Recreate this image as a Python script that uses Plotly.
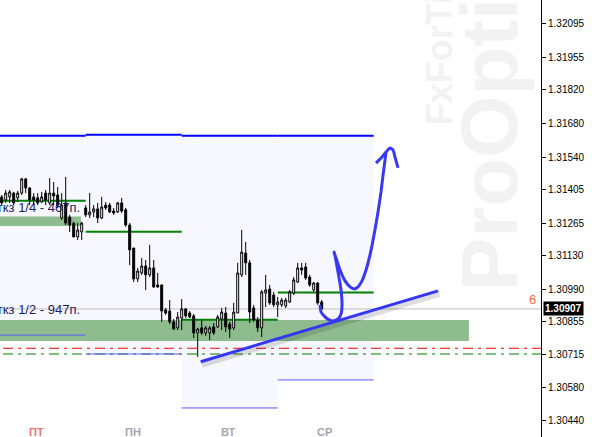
import plotly.graph_objects as go

# ---------------- data ----------------
bars = list(range(81))  # hourly bars, Friday .. Wednesday
opens = [1.31374, 1.31361, 1.31374, 1.31390, 1.31370, 1.31390, 1.31449, 1.31411, 1.31374, 1.31370,
         1.31353, 1.31390, 1.31349, 1.31390, 1.31382, 1.31286, 1.31349, 1.31290, 1.31265, 1.31207,
         1.31228, 1.31328, 1.31299, 1.31311, 1.31324, 1.31286, 1.31340, 1.31340, 1.31315, 1.31311,
         1.31349, 1.31320, 1.31257, 1.31161, 1.31032, 1.31057, 1.31086, 1.31049, 1.31078, 1.31007,
         1.31007, 1.30903, 1.30898, 1.30853, 1.30828, 1.30869, 1.30907, 1.30890, 1.30878, 1.30807,
         1.30828, 1.30807, 1.30807, 1.30832, 1.30832, 1.30865, 1.30890, 1.30844, 1.30828, 1.30890,
         1.31049, 1.31140, 1.31099, 1.30911, 1.30861, 1.30828, 1.30973, 1.30990, 1.30965, 1.30924,
         1.30924, 1.30919, 1.30936, 1.30973, 1.31019, 1.31078, 1.31082, 1.31040, 1.30986, 1.31015,
         1.30936]
highs = [1.31382, 1.31403, 1.31403, 1.31395, 1.31399, 1.31453, 1.31453, 1.31415, 1.31390, 1.31390,
         1.31395, 1.31403, 1.31453, 1.31436, 1.31415, 1.31390, 1.31457, 1.31299, 1.31270, 1.31265,
         1.31270, 1.31340, 1.31390, 1.31340, 1.31349, 1.31374, 1.31353, 1.31349, 1.31328, 1.31353,
         1.31370, 1.31328, 1.31265, 1.31161, 1.31078, 1.31119, 1.31111, 1.31174, 1.31111, 1.31057,
         1.31007, 1.30911, 1.30944, 1.30865, 1.30894, 1.30948, 1.30911, 1.30898, 1.30886, 1.30828,
         1.30861, 1.30836, 1.30836, 1.30848, 1.30882, 1.30911, 1.30915, 1.30853, 1.30932, 1.31099,
         1.31236, 1.31186, 1.31111, 1.30924, 1.30873, 1.30986, 1.31049, 1.31007, 1.30978, 1.30957,
         1.30953, 1.30953, 1.30986, 1.31040, 1.31099, 1.31099, 1.31099, 1.31049, 1.31019, 1.31019,
         1.30944]
lows = [1.31340, 1.31349, 1.31349, 1.31340, 1.31353, 1.31382, 1.31390, 1.31340, 1.31340, 1.31340,
        1.31349, 1.31340, 1.31340, 1.31340, 1.31328, 1.31278, 1.31257, 1.31228, 1.31207, 1.31194,
        1.31194, 1.31290, 1.31286, 1.31290, 1.31265, 1.31282, 1.31320, 1.31307, 1.31299, 1.31307,
        1.31307, 1.31249, 1.31090, 1.31019, 1.31019, 1.31049, 1.30986, 1.31040, 1.30994, 1.30994,
        1.30853, 1.30882, 1.30844, 1.30819, 1.30819, 1.30819, 1.30869, 1.30869, 1.30786, 1.30707,
        1.30798, 1.30794, 1.30777, 1.30798, 1.30828, 1.30819, 1.30811, 1.30786, 1.30819, 1.30890,
        1.31040, 1.31049, 1.30848, 1.30853, 1.30811, 1.30790, 1.30915, 1.30924, 1.30915, 1.30873,
        1.30915, 1.30911, 1.30932, 1.30965, 1.31015, 1.31049, 1.31028, 1.30999, 1.30978, 1.30924,
        1.30903]
closes = [1.31349, 1.31390, 1.31395, 1.31349, 1.31390, 1.31449, 1.31411, 1.31361, 1.31361, 1.31349,
          1.31374, 1.31361, 1.31390, 1.31378, 1.31340, 1.31340, 1.31265, 1.31257, 1.31207, 1.31236,
          1.31265, 1.31299, 1.31311, 1.31324, 1.31286, 1.31332, 1.31328, 1.31311, 1.31307, 1.31349,
          1.31315, 1.31257, 1.31153, 1.31032, 1.31065, 1.31086, 1.31049, 1.31078, 1.30999, 1.30999,
          1.30898, 1.30890, 1.30853, 1.30823, 1.30873, 1.30907, 1.30878, 1.30873, 1.30807, 1.30823,
          1.30807, 1.30828, 1.30828, 1.30807, 1.30873, 1.30894, 1.30832, 1.30823, 1.30894, 1.31057,
          1.31144, 1.31099, 1.30894, 1.30861, 1.30828, 1.30978, 1.30986, 1.30932, 1.30924, 1.30936,
          1.30944, 1.30944, 1.30978, 1.31028, 1.31078, 1.31069, 1.31036, 1.31007, 1.31015, 1.30932,
          1.30907]

day_labels = ["ПТ", "ПН", "ВТ", "СР"]
day_label_colors = ["#F07575", "#A3A6B0", "#A3A6B0", "#A3A6B0"]
day_first_bar = [-3, 21, 45, 69]
bars_per_day = 24
day_high = [1.31629, 1.31633, 1.31629, 1.31629]
day_low = [1.30798, 1.30719, 1.30494, 1.30611]
day_open_level = [1.31358, 1.31229, 1.30862, 1.30975]

zone_top = [1.31292, 1.30861]
zone_bottom = [1.31253, 1.30773]
zone_end_bar = [19.8, 116.8]
zone_text = ["ткз 1/4 - 467п.", "ткз 1/2 - 947п."]
zone_text_level = [1.31326, 1.30898]
zone_text_bar = 19.6

last_price = 1.30907
red_level = 1.30743
green_level = 1.30719

trend_bars = [49.75, 109.08]
trend_prices = [1.30687, 1.30982]

arrow_bars = [79.58, 79.83, 80.58, 81.83, 82.83, 84.08, 84.83, 85.08, 84.83, 84.08, 83.33, 83.08,
              83.58, 84.58, 85.83, 87.08, 88.08, 89.08, 90.08, 91.08, 92.08, 93.08, 94.08, 94.83,
              95.33, 95.83, 96.08]
arrow_prices = [1.30924, 1.30894, 1.30878, 1.30861, 1.30857, 1.30865, 1.30886, 1.30924, 1.30986,
                1.31061, 1.31128, 1.31144, 1.31119, 1.31069, 1.31024, 1.30999, 1.30990, 1.30999,
                1.31024, 1.31069, 1.31132, 1.31215, 1.31311, 1.31395, 1.31465, 1.31528, 1.31561]
head_bars = [93.58, 94.83, 96.08, 97.08, 97.83, 98.33, 99.08]
head_prices = [1.31515, 1.31536, 1.31561, 1.31578, 1.31570, 1.31540, 1.31495]

y_ticks = [1.32095, 1.31955, 1.31820, 1.31680, 1.31540, 1.31405, 1.31265, 1.31130,
           1.30990, 1.30855, 1.30715, 1.30580, 1.30440]

X_RANGE = [-0.425, 134.825]
Y_RANGE = [1.30373, 1.32195]

# ---------------- figure ----------------
fig = go.Figure()
shapes = []
XL, XR = X_RANGE[0] - 5, X_RANGE[1] + 5

# daily range boxes
for i in range(4):
    x0 = day_first_bar[i]
    x1 = day_first_bar[i] + bars_per_day
    shapes.append(dict(type="rect", xref="x", yref="y", x0=x0, x1=x1,
                       y0=day_low[i], y1=day_high[i], fillcolor="#F7F7FF",
                       line=dict(width=0), layer="below"))
# green zones
for i in range(2):
    shapes.append(dict(type="rect", xref="x", yref="y", x0=XL, x1=zone_end_bar[i],
                       y0=zone_bottom[i], y1=zone_top[i], fillcolor="#8FBC8F",
                       line=dict(width=0), layer="below"))
# horizontal levels
shapes.append(dict(type="line", xref="x", yref="y", x0=XL, x1=XR,
                   y0=last_price, y1=last_price,
                   line=dict(color="#C0C0C0", width=1), layer="below"))
shapes.append(dict(type="line", xref="x", yref="y", x0=XL, x1=XR,
                   y0=red_level, y1=red_level,
                   line=dict(color="#FF0000", width=1, dash="10px,5px,3px,5px"), layer="below"))
shapes.append(dict(type="line", xref="x", yref="y", x0=XL, x1=XR,
                   y0=green_level, y1=green_level,
                   line=dict(color="#008000", width=1, dash="10px,5px,3px,5px"), layer="below"))
# box borders & daily open lines
for i in range(4):
    x0 = day_first_bar[i]
    x1 = day_first_bar[i] + bars_per_day
    shapes.append(dict(type="line", xref="x", yref="y", x0=x0, x1=x1,
                       y0=day_high[i], y1=day_high[i],
                       line=dict(color="#0000FF", width=2), layer="below"))
    shapes.append(dict(type="line", xref="x", yref="y", x0=x0, x1=x1,
                       y0=day_low[i], y1=day_low[i],
                       line=dict(color="#5A5AFF", width=1), layer="below"))
    shapes.append(dict(type="line", xref="x", yref="y", x0=x0, x1=x1,
                       y0=day_open_level[i], y1=day_open_level[i],
                       line=dict(color="#008000", width=2), layer="below"))

# zone captions (behind candles)
fig.add_trace(go.Scatter(x=[zone_text_bar] * 2, y=zone_text_level, mode="text",
                         text=zone_text, textposition="middle left",
                         textfont=dict(family="Liberation Sans, Arial", size=13, color="#1C1C66"),
                         cliponaxis=True, hoverinfo="skip", showlegend=False))

fig.add_trace(go.Candlestick(
    x=bars, open=opens, high=highs, low=lows, close=closes,
    increasing=dict(line=dict(color="#000000", width=1), fillcolor="#FFFFFF"),
    decreasing=dict(line=dict(color="#000000", width=1), fillcolor="#000000"),
    whiskerwidth=0, showlegend=False, hoverinfo="skip"))

# trend line with soft shadow
shadow_dx = 0.3
shadow_dy = 0.00012
fig.add_trace(go.Scatter(x=[b + shadow_dx for b in trend_bars],
                         y=[p - shadow_dy for p in trend_prices], mode="lines",
                         line=dict(color="rgba(0,0,0,0.13)", width=6),
                         hoverinfo="skip", showlegend=False))
fig.add_trace(go.Scatter(x=trend_bars, y=trend_prices, mode="lines",
                         line=dict(color="#3535F5", width=3),
                         hoverinfo="skip", showlegend=False))
# hand-drawn arrow
fig.add_trace(go.Scatter(x=arrow_bars, y=arrow_prices, mode="lines",
                         line=dict(color="#3838F5", width=3, shape="spline", smoothing=0.5),
                         hoverinfo="skip", showlegend=False))
fig.add_trace(go.Scatter(x=head_bars, y=head_prices, mode="lines",
                         line=dict(color="#3838F5", width=3, shape="spline", smoothing=0.5),
                         hoverinfo="skip", showlegend=False))

annotations = []
for i in range(4):
    annotations.append(dict(x=day_first_bar[i] + bars_per_day / 2 - 0.2, y=0.012,
                            xref="x", yref="paper", text="<b>%s</b>" % day_labels[i],
                            showarrow=False,
                            font=dict(family="Liberation Sans, Arial", size=11,
                                      color=day_label_colors[i]),
                            xanchor="center", yanchor="middle"))
# last price tag
annotations.append(dict(x=1.0037, y=last_price, xref="paper", yref="y",
                        text="<b>%.5f</b>" % last_price, showarrow=False,
                        xanchor="left", yanchor="middle", bgcolor="#000000",
                        font=dict(family="Liberation Sans, Arial", size=10, color="#FFFFFF"),
                        borderpad=1))
annotations.append(dict(x=0.985, y=1.30948, xref="paper", yref="y", text="6",
                        showarrow=False, xanchor="center", yanchor="middle",
                        font=dict(family="Liberation Sans, Arial", size=13, color="#FF6A3D")))
# watermarks
annotations.append(dict(x=0.905, y=1 - 293 / 437, xref="paper", yref="paper",
                        text="<b>ProOption</b>", textangle=-90, showarrow=False,
                        xanchor="center", yanchor="bottom",
                        font=dict(family="Liberation Sans, Arial", size=80, color="#F2F2F2")))
annotations.append(dict(x=0.813, y=1 - 127 / 437, xref="paper", yref="paper",
                        text="<b>FxForTime</b>", textangle=-90, showarrow=False,
                        xanchor="center", yanchor="bottom",
                        font=dict(family="Liberation Sans, Arial", size=36, color="#F2F2F2")))

fig.update_layout(
    width=592, height=437,
    margin=dict(l=0, r=51, t=0, b=0),
    paper_bgcolor="#FFFFFF", plot_bgcolor="#FFFFFF",
    shapes=shapes, annotations=annotations,
    showlegend=False, hovermode=False,
    xaxis=dict(range=X_RANGE, showgrid=False, zeroline=False, showticklabels=False,
               ticks="", showline=False, rangeslider=dict(visible=False), fixedrange=True),
    yaxis=dict(range=Y_RANGE, side="right", tickvals=y_ticks,
               ticktext=["%.5f" % v for v in y_ticks], showgrid=False, zeroline=False,
               ticks="outside", ticklen=4, tickcolor="#000000", showline=True,
               linecolor="#000000", linewidth=1,
               tickfont=dict(family="Liberation Sans, Arial", size=10, color="#000000"),
               fixedrange=True),
)

fig.write_html("out.html")
